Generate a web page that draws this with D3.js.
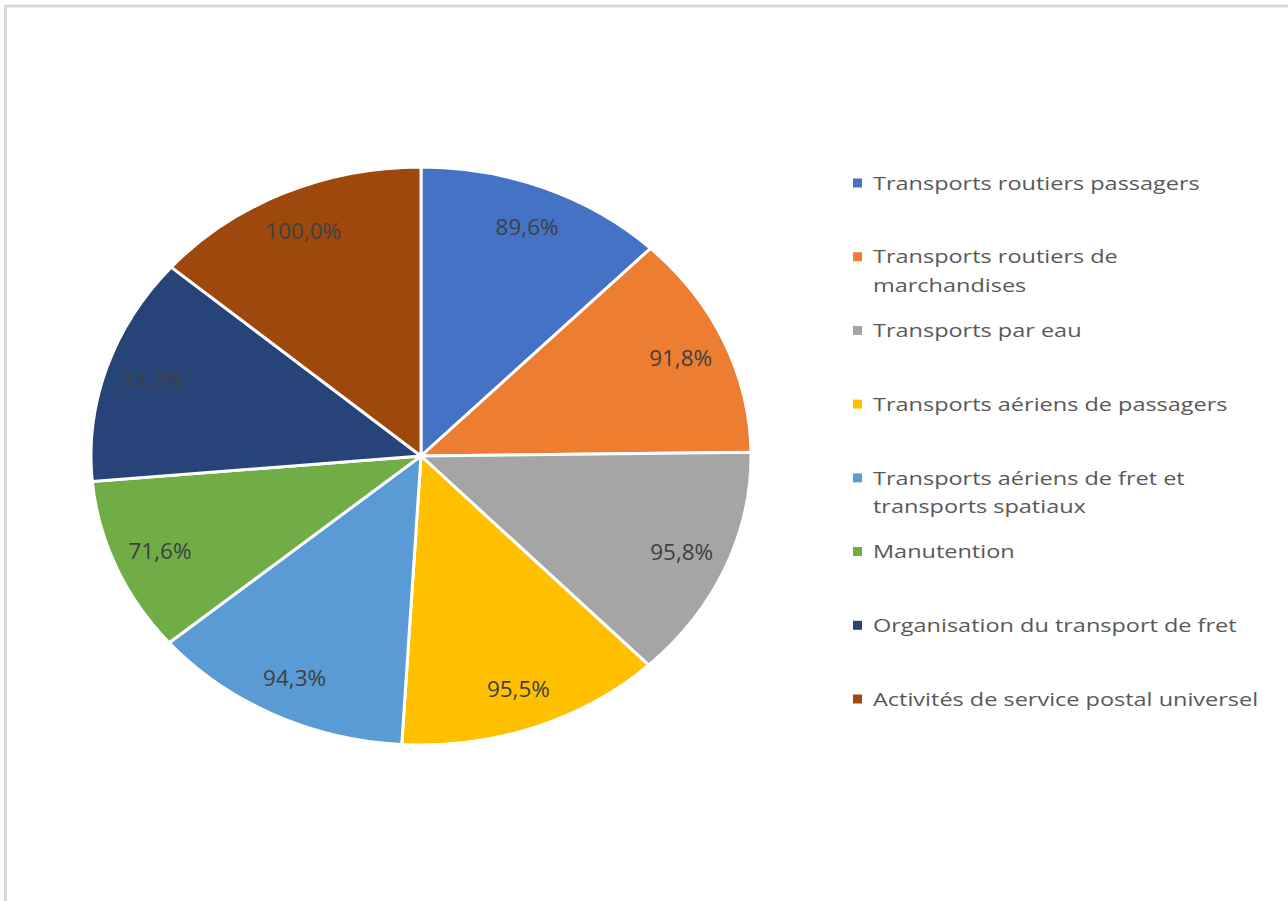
<!DOCTYPE html>
<html>
<head>
<meta charset="utf-8">
<script src="https://cdn.jsdelivr.net/npm/d3@7"></script>
<style>
  html, body { margin: 0; padding: 0; background: #fff; }
  svg { display: block; }
</style>
</head>
<body>
<svg id="chart" width="1288" height="901"></svg>
<script>
  var categories = [
    "Transports routiers passagers",
    "Transports routiers de marchandises",
    "Transports par eau",
    "Transports aériens de passagers",
    "Transports aériens de fret et transports spatiaux",
    "Manutention",
    "Organisation du transport de fret",
    "Activités de service postal universel"
  ];
  // legend lines, as wrapped in the picture
  var legendLines = [
    ["Transports routiers passagers"],
    ["Transports routiers de", "marchandises"],
    ["Transports par eau"],
    ["Transports aériens de passagers"],
    ["Transports aériens de fret et", "transports spatiaux"],
    ["Manutention"],
    ["Organisation du transport de fret"],
    ["Activités de service postal universel"]
  ];
  var values = [89.6, 91.8, 95.8, 95.5, 94.3, 71.6, 93.2, 100.0];
  var colors = ["#4472C4", "#ED7D31", "#A5A5A5", "#FFC000", "#5B9BD5", "#70AD47", "#264478", "#9E480E"];

  var svg = d3.select("#chart");
  var cx = 421, cy = 456, R = 330, sy = 289 / 330;

  // frame
  svg.append("path")
    .attr("d", "M5.5,901 V6 H1288")
    .attr("fill", "none")
    .attr("stroke", "#d9d9d9")
    .attr("stroke-width", 3);

  var pie = d3.pie().sort(null).value(function(d) { return d; });
  var arcs = pie(values);
  var arc = d3.arc().innerRadius(0).outerRadius(R);
  var labelArc = d3.arc().innerRadius(R * 0.857).outerRadius(R * 0.857);

  var g = svg.append("g")
    .attr("transform", "translate(" + cx + "," + cy + ") scale(1," + sy + ")");

  g.selectAll("path.slice")
    .data(arcs)
    .enter().append("path")
    .attr("class", "slice")
    .attr("d", arc)
    .attr("fill", function(d, i) { return colors[i]; })
    .attr("stroke", "#fff")
    .attr("stroke-width", 3)
    .attr("vector-effect", "non-scaling-stroke");

  var fmt = function(v) { return v.toFixed(1).replace(".", ",") + "%"; };

  svg.selectAll("text.val")
    .data(arcs)
    .enter().append("text")
    .attr("class", "val")
    .attr("x", function(d) { return cx + labelArc.centroid(d)[0]; })
    .attr("y", function(d) { return cy + labelArc.centroid(d)[1] * sy; })
    .attr("dy", "0.36em")
    .attr("text-anchor", "middle")
    .attr("font-family", "Open Sans, sans-serif")
    .attr("font-size", 22.5)
    .attr("fill", "#404040")
    .text(function(d) { return fmt(d.data); });

  // legend
  var legendY = d3.scaleLinear().domain([0, 7]).range([183, 699]);
  var leg = svg.append("g");
  var items = leg.selectAll("g.item")
    .data(legendLines)
    .enter().append("g")
    .attr("class", "item")
    .attr("transform", function(d, i) { return "translate(0," + legendY(i) + ")"; });

  items.append("rect")
    .attr("x", 853)
    .attr("y", -4.5)
    .attr("width", 9)
    .attr("height", 9)
    .attr("fill", function(d, i) { return colors[i]; });

  var texts = items.append("text")
    .attr("font-family", "Open Sans, sans-serif")
    .attr("font-size", 19)
    .attr("fill", "#595959");

  texts.selectAll("tspan")
    .data(function(d) { return d; })
    .enter().append("tspan")
    .attr("x", 0)
    .attr("y", function(d, j) { return j * 29; })
    .attr("dy", "0.35em")
    .text(function(d) { return d; });

  // fit the legend text width to the picture
  var w0 = texts.nodes()[0].getComputedTextLength();
  var kx = 327 / w0;
  texts.attr("transform", "translate(873,0) scale(" + kx + ",1)");
</script>
</body>
</html>
